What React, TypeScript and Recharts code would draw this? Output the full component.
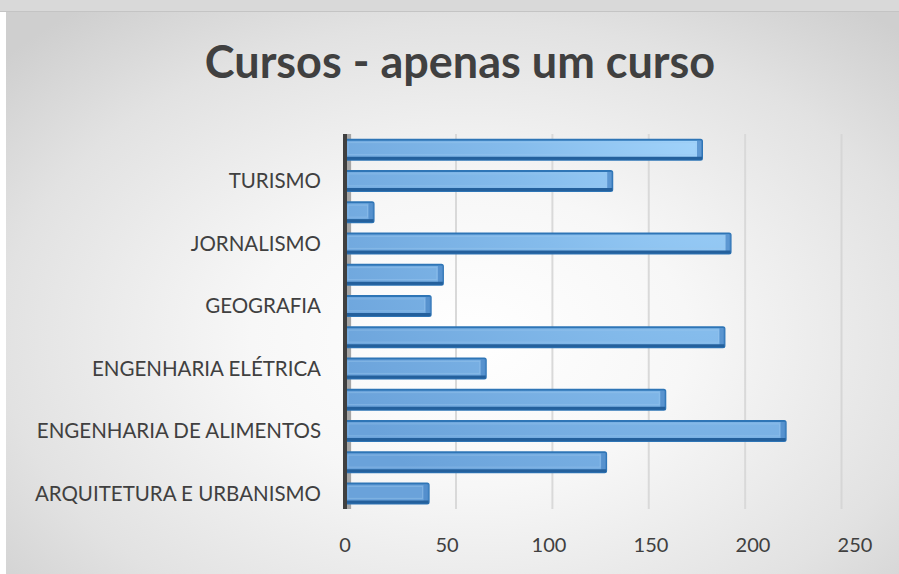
import React from "react";
import {
  BarChart,
  Bar,
  XAxis,
  YAxis,
  ReferenceLine,
  ReferenceArea,
} from "recharts";

// Categories, bottom to top (as in the reference)
const courses = [
  "ARQUITETURA E URBANISMO",
  "CIÊNCIAS BIOLÓGICAS",
  "ENGENHARIA DE ALIMENTOS",
  "ENGENHARIA CIVIL",
  "ENGENHARIA ELÉTRICA",
  "ENGENHARIA MECÂNICA",
  "GEOGRAFIA",
  "HISTÓRIA",
  "JORNALISMO",
  "MATEMÁTICA",
  "TURISMO",
  "ZOOTECNIA",
];
const counts = [41, 128, 216, 157, 69, 186, 42, 48, 189, 14, 131, 175];
const xTicks = [0, 50, 100, 150, 200, 250];
const gridTicks = [50, 100, 150, 200, 250];
const title = "Cursos - apenas um curso";

const data = courses.map((name, i) => ({ name, value: counts[i] }));

const Bar3D = (props: any) => {
  const { x, y, width, height } = props;
  if (!width || width <= 0) return null;
  const side = Math.min(5, width / 3);
  return (
    <g>
      <rect
        x={x}
        y={y}
        width={width}
        height={height}
        fill="url(#barGrad)"
        stroke="#2e75b6"
        strokeWidth={2}
        rx={1.5}
      />
      <rect
        x={x + 3}
        y={y + 3}
        width={Math.max(0, width - side - 4)}
        height={Math.max(0, height - 8)}
        fill="none"
        stroke="#9cc8f0"
        strokeOpacity={0.45}
        strokeWidth={1}
      />
      <rect
        x={x + width - side}
        y={y + 1}
        width={side}
        height={height - 2}
        fill="#4f8bc9"
        opacity={0.8}
      />
      <line
        x1={x + 1}
        x2={x + width}
        y1={y + height - 1.5}
        y2={y + height - 1.5}
        stroke="#24609c"
        strokeWidth={3}
      />
    </g>
  );
};

export default function App() {
  return (
    <div
      style={{
        position: "relative",
        width: 899,
        height: 574,
        background: "#ffffff",
        overflow: "hidden",
        fontFamily: "Lato, sans-serif",
      }}
    >
      <style>{"body{margin:0}"}</style>
      <div
        style={{
          position: "absolute",
          left: 0,
          top: 0,
          width: 899,
          height: 11,
          background: "#d9d9d9",
          borderBottom: "1px solid #c4c4c4",
        }}
      />
      <div
        style={{
          position: "absolute",
          left: 6,
          top: 12,
          width: 893,
          height: 562,
          background:
            "radial-gradient(ellipse 70% 75% at 52% 58%, #ffffff 0%, #f7f7f7 35%, #e2e2e2 75%, #cfcfcf 100%)",
        }}
      >
        <div
          style={{
            position: "absolute",
            left: 0,
            width: 908,
            top: 27,
            textAlign: "center",
            fontFamily: "Lato, sans-serif",
            fontWeight: 700,
            fontSize: 45,
            lineHeight: "45px",
            color: "#404040",
          }}
        >
          {title}
        </div>
        <BarChart
          width={893}
          height={562}
          data={data}
          layout="vertical"
          margin={{ top: 122, right: 44, bottom: 0, left: 0 }}
          barCategoryGap="18%"
        >
          <defs>
            <radialGradient
              id="barGrad"
              gradientUnits="userSpaceOnUse"
              cx={720}
              cy={110}
              r={470}
            >
              <stop offset="0%" stopColor="#a6d7fd" />
              <stop offset="45%" stopColor="#85bcec" />
              <stop offset="100%" stopColor="#6aa2da" />
            </radialGradient>
          </defs>
          <XAxis
            type="number"
            domain={[0, 250]}
            ticks={xTicks}
            axisLine={false}
            tickLine={false}
            tickMargin={23}
            height={65}
            tick={{ fontSize: 20, fill: "#404040", fontFamily: "Lato, sans-serif" }}
          />
          <XAxis
            xAxisId="grid"
            type="number"
            domain={[-7.6, 257]}
            ticks={gridTicks}
            allowDataOverflow
            hide
          />
          <YAxis
            type="category"
            dataKey="name"
            reversed
            interval={1}
            width={339}
            tickLine={false}
            tickMargin={18}
            axisLine={{ stroke: "#404040", strokeWidth: 4 }}
            tick={{ fontSize: 20.5, fill: "#404040", fontFamily: "Lato, sans-serif" }}
          />
          {gridTicks.map((t) => (
            <ReferenceLine
              key={t}
              xAxisId="grid"
              x={t}
              stroke={t === 250 ? "#d6d6d6" : "#d9d9d9"}
              strokeWidth={2}
              zIndex={-50}
            />
          ))}
          <ReferenceArea x1={0} x2={3} fill="#a6a6a6" fillOpacity={1} stroke="none" />
          <Bar
            dataKey="value"
            shape={<Bar3D />}
            isAnimationActive={false}
          />
        </BarChart>
      </div>
    </div>
  );
}
